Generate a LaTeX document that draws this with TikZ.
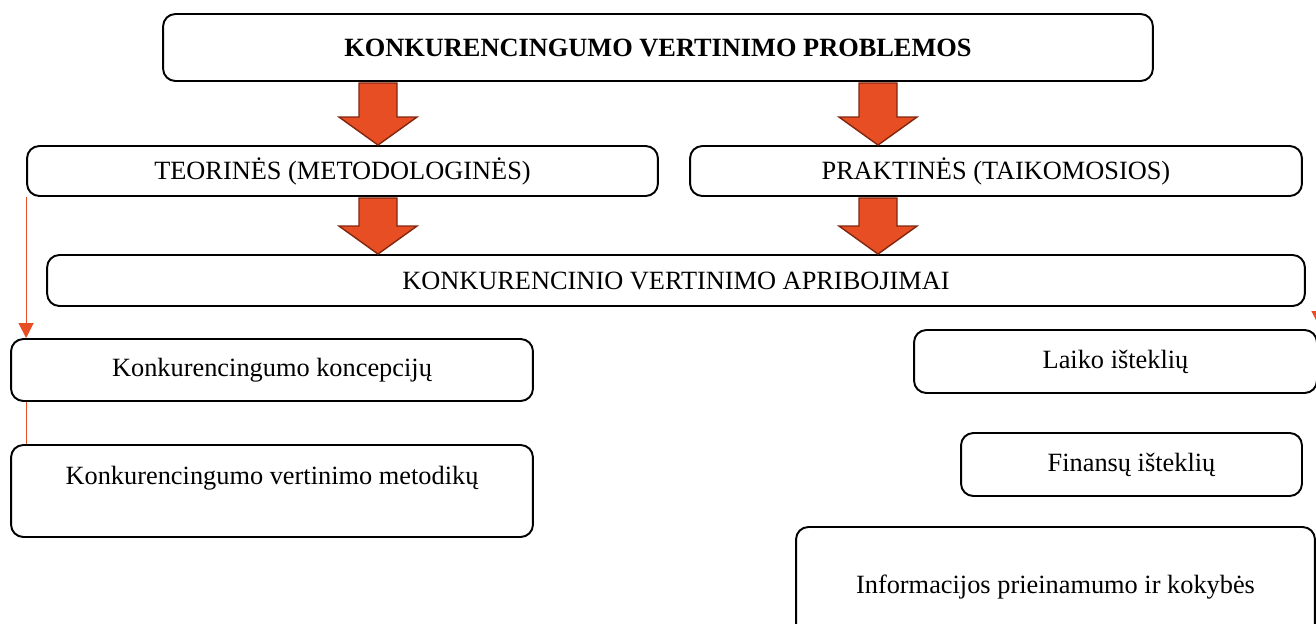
\documentclass[tikz,border=0pt]{standalone}
\usepackage{fontspec}
\setmainfont{Liberation Serif}
\usetikzlibrary{arrows.meta, calc}

\definecolor{arrowfill}{RGB}{232,78,36}
\definecolor{arrowedge}{RGB}{130,38,14}

% block arrow between two boxes: x position (px), upper node, lower node
\newcommand{\bigarrow}[3]{%
  \coordinate (bax) at (#1,0);
  \path (bax |- #2.south) coordinate (bat) (bax |- #3.north) coordinate (bab);
  \filldraw[bigarrow] ($(bat)+(-19,1)$) -- ($(bab)+(-19,-28)$) -- ($(bab)+(-39,-28)$) -- (bab)
    -- ($(bab)+(39,-28)$) -- ($(bab)+(19,-28)$) -- ($(bat)+(19,1)$) -- cycle;
}

\begin{document}
\begin{tikzpicture}[x=0.02cm, y=-0.02cm, >=Stealth,
  font=\fontsize{15pt}{18pt}\selectfont,
  box/.style={draw, line width=1.1pt, rounded corners=7pt, align=center, inner sep=0pt},
  bigarrow/.style={fill=arrowfill, draw=arrowedge, line width=0.8pt, line join=miter},
  link/.style={draw=arrowfill, line width=0.6pt, -{Triangle[width=8.5pt, length=8.5pt]}}]

\useasboundingbox (0,0) rectangle (1316,623);

% Top level
\node[box, minimum width=19.8cm, minimum height=1.34cm] (prob) at (658,47.5) {\textbf{KONKURENCINGUMO VERTINIMO PROBLEMOS}};

% Two kinds of problems
\node[box, minimum width=12.62cm, minimum height=1.0cm] (teor) at (342.5,171) {TEORINĖS (METODOLOGINĖS)};
\node[box, minimum width=12.24cm, minimum height=1.0cm] (prakt) at (996,171) {PRAKTINĖS (TAIKOMOSIOS)};

% Limitations
\node[box, minimum width=25.16cm, minimum height=1.02cm] (apr) at (676,280.5) {KONKURENCINIO VERTINIMO APRIBOJIMAI};

% Theoretical side
\node[box, minimum width=10.44cm, minimum height=1.24cm] (konc) at (272,370) {Konkurencingumo koncepcijų};
\node[box, minimum width=10.44cm, minimum height=1.84cm] (metod) at (272,491) {Konkurencingumo vertinimo metodikų\\ \mbox{}};

% Practical side
\node[box, minimum width=8.06cm, minimum height=1.26cm] (laiko) at (1115.5,361.5) {Laiko išteklių};
\node[box, minimum width=6.82cm, minimum height=1.26cm] (fin) at (1131.5,464.5) {Finansų išteklių};
\node[box, minimum width=10.38cm, minimum height=2.4cm] (info) at (1055.5,587) {Informacijos prieinamumo ir kokybės};

% Block arrows
\bigarrow{378}{prob}{teor}
\bigarrow{878}{prob}{prakt}
\bigarrow{378}{teor}{apr}
\bigarrow{878}{prakt}{apr}

% Thin connectors
\draw[link] (teor.south west) -- (teor.south west |- konc.north);
\draw[draw=arrowfill, line width=0.6pt] (konc.south -| teor.south west) -- (metod.north -| teor.south west);
\coordinate (rline) at (1319,196);
\draw[link] (rline) -- ($(rline |- laiko.north)+(0,-3)$);

\end{tikzpicture}
\end{document}
